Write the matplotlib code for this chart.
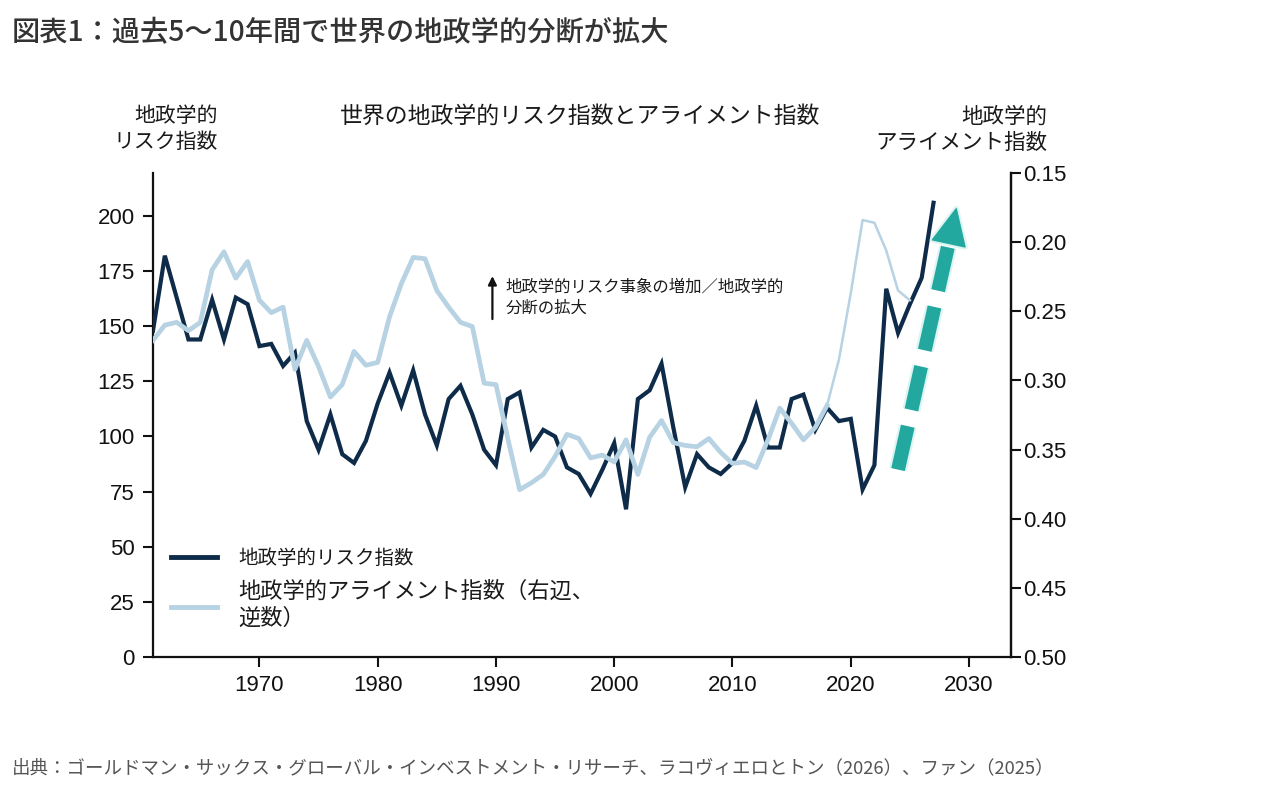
import matplotlib
matplotlib.use("Agg")
import matplotlib.pyplot as plt
import matplotlib.patheffects as pe
from matplotlib.lines import Line2D

######## Data
years_risk = list(range(1961, 2028))
risk_index = [148, 182, 163, 144, 144, 162, 144, 163, 160, 141,
              142, 132, 138, 107, 94, 110, 92, 88, 98, 115,
              129, 114, 130, 110, 96, 117, 123, 110, 94, 87,
              117, 120, 95, 103, 100, 86, 83, 74, 85, 97,
              67, 117, 121, 133, 104, 77, 92, 86, 83, 88,
              98, 114, 95, 95, 117, 119, 103, 113, 107, 108,
              76, 87, 167, 147, 160, 172, 206]

years_align = list(range(1961, 2026))
align_index = [0.271, 0.260, 0.258, 0.264, 0.258, 0.220, 0.207, 0.226, 0.214, 0.242,
               0.251, 0.247, 0.292, 0.271, 0.290, 0.312, 0.303, 0.279, 0.289, 0.287,
               0.254, 0.230, 0.211, 0.212, 0.235, 0.247, 0.258, 0.261, 0.302, 0.303,
               0.342, 0.379, 0.374, 0.368, 0.355, 0.339, 0.342, 0.356, 0.354, 0.359,
               0.343, 0.368, 0.341, 0.329, 0.345, 0.347, 0.348, 0.342, 0.352, 0.360,
               0.359, 0.363, 0.343, 0.320, 0.331, 0.343, 0.334, 0.318, 0.285, 0.237,
               0.184, 0.186, 0.206, 0.235, 0.242]
thin_from = 2018  # light line drawn thinner from here on

x_ticks = [1970, 1980, 1990, 2000, 2010, 2020, 2030]
left_ticks = [0, 25, 50, 75, 100, 125, 150, 175, 200]
right_ticks = [0.15, 0.20, 0.25, 0.30, 0.35, 0.40, 0.45, 0.50]

title = "図表1：過去5〜10年間で世界の地政学的分断が拡大"
chart_title = "世界の地政学的リスク指数とアライメント指数"
left_label = "地政学的\nリスク指数"
right_label = "地政学的\nアライメント指数"
note = "地政学的リスク事象の増加／地政学的\n分断の拡大"
legend_labels = ["地政学的リスク指数", "地政学的アライメント指数（右辺、\n逆数）"]
source = "出典：ゴールドマン・サックス・グローバル・インベストメント・リサーチ、ラコヴィエロとトン（2026）、ファン（2025）"

DARK = "#0e2c49"
LIGHT = "#b7d2e3"
TEAL = "#22a89f"

plt.rcParams['font.family'] = ['Noto Sans CJK JP', 'DejaVu Sans']

W, H = 1280, 794
fig = plt.figure(figsize=(W / 100, H / 100), dpi=100)
ax = fig.add_axes([153 / W, 1 - 657 / H, (1011 - 153) / W, (657 - 173) / H])
ax2 = ax.twinx()

######## Lines
ax.plot(years_risk, risk_index, color=DARK, lw=3.0, solid_joinstyle='miter', zorder=3)

cut = years_align.index(thin_from)
ax2.plot(years_align[:cut + 1], align_index[:cut + 1], color=LIGHT, lw=3.4, zorder=2)
ax2.plot(years_align[cut:], align_index[cut:], color=LIGHT, lw=1.8, zorder=2)

######## Axes
ax.set_xlim(1961, 2033.55)
ax.set_ylim(0, 219.5)
ax2.set_ylim(0.50, 0.15)

ax.set_xticks(x_ticks)
ax.set_yticks(left_ticks)
ax2.set_yticks(right_ticks)
ax2.set_yticklabels(["%.2f" % v for v in right_ticks])

for a in (ax, ax2):
    a.spines['top'].set_visible(False)
    for s in a.spines.values():
        s.set_linewidth(1.6)
        s.set_color("#111111")
ax2.spines['left'].set_visible(False)
ax2.spines['bottom'].set_visible(False)

ax.tick_params(axis='both', direction='out', length=7, width=1.5, labelsize=16, colors="#111111")
ax.tick_params(axis='x', pad=6)
ax.tick_params(axis='y', pad=6)
ax2.tick_params(axis='y', direction='out', length=7, width=1.5, labelsize=16, pad=2, colors="#111111")
for lab in ax.get_xticklabels() + ax.get_yticklabels() + ax2.get_yticklabels():
    lab.set_fontfamily(['Liberation Sans', 'DejaVu Sans'])

######## Texts
fig.text(12 / W, 1 - 33 / H, title, fontsize=20.3, weight='medium', color="#333333", va='center')
fig.text(580 / W, 1 - 116 / H, chart_title, fontsize=16.5, color="#1a1a1a", ha='center', va='center')
fig.text(218 / W, 1 - 129 / H, left_label, fontsize=15, color="#1a1a1a", ha='right', va='center',
         multialignment='right', linespacing=1.25)
fig.text(1047 / W, 1 - 130 / H, right_label, fontsize=15.5, color="#1a1a1a", ha='right', va='center',
         multialignment='right', linespacing=1.25)
fig.text(12 / W, 1 - 768 / H, source, fontsize=13.3, color="#555555", va='center')

# upward note arrow with text
ax.annotate("", xy=(1989.7, 174), xytext=(1989.7, 152),
            arrowprops=dict(arrowstyle="-|>,head_length=0.5,head_width=0.25", color="#111111", lw=1.6))
ax.text(1990.8, 163, note, fontsize=11.8, color="#1a1a1a", va='center', linespacing=1.3)

######## Teal dashed arrow
tail = (2024.0, 85)
neck = (2028.3, 188)
tip = (2028.95, 204)
soft = "#dcf4f2"
ax.plot([tail[0], neck[0]], [tail[1], neck[1]], color=TEAL, lw=10, dashes=(3.2, 1.2),
        dash_capstyle='butt', path_effects=[pe.withStroke(linewidth=13, foreground=soft)], zorder=5)
ax.annotate("", xy=tip, xytext=neck,
            arrowprops=dict(arrowstyle="-|>,head_length=0.85,head_width=0.4", color=TEAL, lw=1,
                            mutation_scale=30, shrinkA=0, shrinkB=0,
                            path_effects=[pe.withStroke(linewidth=4, foreground=soft)]),
            zorder=5)

######## Legend
handles = [Line2D([], [], color=DARK, lw=3.5), Line2D([], [], color=LIGHT, lw=3.5)]
leg = ax.legend(handles, legend_labels, loc='lower left', bbox_to_anchor=(0.0, 0.02),
                frameon=False, handlelength=2.4, handletextpad=1.1, labelspacing=0.6, fontsize=14)
leg.get_texts()[1].set_fontsize(16)
for t in leg.get_texts():
    t.set_color("#1a1a1a")

fig.savefig("out.png", dpi=100, facecolor='white')
